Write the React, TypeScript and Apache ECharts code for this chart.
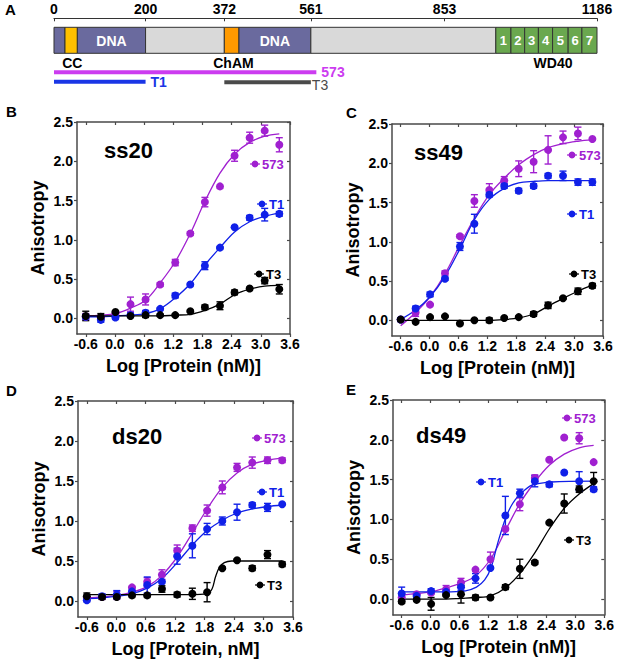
import React, { useEffect, useRef } from 'react';
import * as echarts from 'echarts';

const FONT = "'Liberation Sans', Arial, sans-serif";

// ---------- Panel A: domain map ----------
const scaleTicks = [0, 200, 372, 561, 853, 1186];
const domainStart = [0, 24, 51, 200, 372, 404, 561, 965, 998, 1028, 1058, 1089, 1123, 1153];
const domainEnd = [24, 51, 200, 372, 404, 561, 965, 998, 1028, 1058, 1089, 1123, 1153, 1186];
const domainKind = ['dna', 'cc', 'dna', 'link', 'cham', 'dna', 'link', 'wd', 'wd', 'wd', 'wd', 'wd', 'wd', 'wd'];
const domainText = ['', '', 'DNA', '', '', 'DNA', '', '1', '2', '3', '4', '5', '6', '7'];
const featureNames = ['CC', 'ChAM', 'WD40'];
const featureCenters = [40, 392, 1090];
const constructNames = ['573', 'T1', 'T3'];
const constructStart = [0, 0, 372];
const constructEnd = [573, 200, 561];

// ---------- Binding panels ----------
const xLog = [-0.6, -0.29, 0.01, 0.32, 0.63, 0.93, 1.24, 1.55, 1.85, 2.16, 2.46, 2.77, 3.08, 3.38];
const xTicks = [-0.6, 0, 0.6, 1.2, 1.8, 2.4, 3.0, 3.6];
const yTicks = [0, 0.5, 1.0, 1.5, 2.0, 2.5];
const seriesNames = ['573', 'T1', 'T3'];

// B: ss20
const ss20_573 = [0.02, 0.01, 0.06, 0.18, 0.24, 0.43, 0.71, 1.08, 1.48, 1.68, 2.07, 2.30, 2.39, 2.21];
const ss20_573_err = [0.04, 0.02, 0.02, 0.09, 0.07, 0.02, 0.04, 0.02, 0.06, 0.0, 0.07, 0.07, 0.07, 0.09];
const ss20_T1 = [0.02, -0.02, 0.01, 0.04, 0.07, 0.12, 0.29, 0.43, 0.67, 0.90, 1.16, 1.28, 1.32, 1.33];
const ss20_T1_err = [0.03, 0.03, 0.01, 0.03, 0.03, 0.01, 0.03, 0.01, 0.05, 0.01, 0.01, 0.03, 0.08, 0.03];
const ss20_T3 = [0.03, 0.02, 0.08, 0.03, 0.04, 0.04, 0.04, 0.09, 0.14, 0.16, 0.33, 0.38, 0.48, 0.37];
const ss20_T3_err = [0.06, 0.04, 0.01, 0.01, 0.03, 0.01, 0.01, 0.01, 0.03, 0.05, 0.03, 0.01, 0.04, 0.06];
const ss20_573_fit = [0.03, 0.04, 0.06, 0.13, 0.23, 0.45, 0.72, 1.08, 1.49, 1.85, 2.09, 2.24, 2.32, 2.35];
const ss20_T1_fit = [0.02, 0.02, 0.03, 0.04, 0.06, 0.12, 0.26, 0.44, 0.68, 0.90, 1.10, 1.23, 1.30, 1.34];
const ss20_T3_fit = [0.03, 0.03, 0.03, 0.03, 0.03, 0.03, 0.04, 0.05, 0.10, 0.18, 0.30, 0.37, 0.41, 0.42];

// C: ss49
const ss49_573 = [0.01, 0.10, 0.20, 0.60, 1.07, 1.52, 1.66, 1.78, 1.93, 2.02, 2.17, 2.33, 2.38, 2.31];
const ss49_573_err = [0.01, 0.05, 0.01, 0.03, 0.02, 0.08, 0.08, 0.05, 0.10, 0.14, 0.18, 0.08, 0.08, 0.0];
const ss49_T1 = [0.01, 0.15, 0.33, 0.53, 0.94, 1.23, 1.60, 1.71, 1.65, 1.71, 1.84, 1.84, 1.76, 1.76];
const ss49_T1_err = [0.02, 0.03, 0.03, 0.02, 0.05, 0.12, 0.03, 0.03, 0.03, 0.03, 0.03, 0.06, 0.04, 0.04];
const ss49_T3 = [0.01, -0.02, 0.04, 0.05, -0.04, 0.0, 0.0, 0.03, 0.04, 0.08, 0.19, 0.28, 0.37, 0.44];
const ss49_T3_err = [0.01, 0.01, 0.01, 0.01, 0.01, 0.01, 0.03, 0.01, 0.01, 0.03, 0.04, 0.01, 0.04, 0.03];
const ss49_573_fit = [-0.07, 0.10, 0.30, 0.59, 0.96, 1.30, 1.60, 1.81, 1.98, 2.11, 2.20, 2.25, 2.28, 2.30];
const ss49_T1_fit = [0.01, 0.13, 0.30, 0.56, 0.91, 1.28, 1.54, 1.68, 1.75, 1.77, 1.78, 1.78, 1.78, 1.78];
const ss49_T3_fit = [0.0, 0.0, 0.0, 0.0, 0.0, 0.0, 0.0, 0.01, 0.03, 0.08, 0.18, 0.28, 0.37, 0.45];

// D: ds20
const ds20_573 = [0.04, 0.05, 0.07, 0.17, 0.24, 0.33, 0.63, 0.91, 1.13, 1.42, 1.67, 1.73, 1.76, 1.76];
const ds20_573_err = [0.02, 0.02, 0.05, 0.01, 0.05, 0.06, 0.07, 0.04, 0.07, 0.08, 0.05, 0.07, 0.04, 0.03];
const ds20_T1 = [0.01, 0.06, 0.08, 0.12, 0.20, 0.24, 0.56, 0.69, 0.90, 1.00, 1.11, 1.20, 1.17, 1.21];
const ds20_T1_err = [0.02, 0.03, 0.05, 0.01, 0.10, 0.08, 0.10, 0.15, 0.07, 0.05, 0.10, 0.03, 0.05, 0.0];
const ds20_T3 = [0.06, 0.05, 0.05, 0.07, 0.07, 0.15, 0.08, 0.09, 0.11, 0.41, 0.51, 0.41, 0.58, 0.46];
const ds20_T3_err = [0.04, 0.03, 0.01, 0.01, 0.01, 0.04, 0.03, 0.07, 0.12, 0.01, 0.01, 0.03, 0.05, 0.03];
const ds20_573_fit = [0.04, 0.05, 0.07, 0.11, 0.18, 0.32, 0.55, 0.85, 1.15, 1.42, 1.60, 1.71, 1.76, 1.79];
const ds20_T1_fit = [0.03, 0.04, 0.06, 0.09, 0.16, 0.28, 0.48, 0.70, 0.88, 1.01, 1.10, 1.15, 1.18, 1.20];
const ds20_T3_fitX = [-0.6, 0.5, 1.5, 1.85, 1.95, 2.02, 2.1, 2.2, 2.35, 2.8, 3.38];
const ds20_T3_fit = [0.08, 0.08, 0.08, 0.09, 0.15, 0.30, 0.42, 0.48, 0.50, 0.50, 0.50];

// E: ds49
const ds49_573 = [0.02, 0.06, 0.08, 0.12, 0.21, 0.37, 0.50, 0.88, 1.19, 1.52, 1.75, 2.03, 2.02, 1.72];
const ds49_573_err = [0.01, 0.01, 0.01, 0.05, 0.05, 0.01, 0.09, 0.02, 0.08, 0.04, 0.01, 0.01, 0.07, 0.0];
const ds49_T1 = [0.07, 0.04, 0.10, 0.09, 0.15, 0.26, 0.39, 1.05, 1.33, 1.48, 1.44, 1.59, 1.48, 1.38];
const ds49_T1_err = [0.08, 0.02, 0.03, 0.01, 0.04, 0.06, 0.01, 0.24, 0.05, 0.07, 0.03, 0.0, 0.12, 0.03];
const ds49_T3 = [-0.03, -0.01, -0.06, 0.05, 0.06, 0.02, 0.02, 0.15, 0.38, 0.46, 0.96, 1.20, 1.38, 1.48];
const ds49_T3_err = [0.02, 0.01, 0.08, 0.01, 0.11, 0.03, 0.01, 0.03, 0.12, 0.02, 0.01, 0.12, 0.04, 0.11];
const ds49_573_fit = [0.05, 0.07, 0.09, 0.14, 0.20, 0.29, 0.50, 0.86, 1.20, 1.47, 1.68, 1.82, 1.90, 1.93];
const ds49_T1_fitX = [-0.6, 0.3, 0.7, 0.95, 1.12, 1.25, 1.39, 1.55, 1.7, 1.85, 2.1, 2.5, 3.38];
const ds49_T1_fit = [0.09, 0.09, 0.10, 0.15, 0.24, 0.39, 0.70, 1.01, 1.20, 1.31, 1.43, 1.47, 1.48];
const ds49_T3_fit = [0.0, 0.0, 0.0, 0.0, 0.01, 0.02, 0.04, 0.14, 0.32, 0.58, 0.88, 1.14, 1.32, 1.45];

// ---------- styles ----------
const COLORS = ['#a020d0', '#1020e8', '#000000'];
const AXIS = '#4a4a4a';
const domainColors: Record<string, string> = {
  dna: '#6a6a9e', cc: '#ffc000', cham: '#ff9a00', link: '#d9d9d9', wd: '#6aa84f',
};
const constructColors = ['#cc3cf0', '#1a36e6', '#4a4a4a'];
const constructRow = [54, 63.4, 64];

const panels = [
  {
    grid: { left: 77, top: 122, width: 213, height: 212 },
    letter: 'B', letterPos: [6, 111], title: 'ss20', titlePos: [104, 150],
    xName: 'Log [Protein (nM)]',
    legend: [[255, 164], [262, 204], [259, 274]],
    vals: [ss20_573, ss20_T1, ss20_T3], errs: [ss20_573_err, ss20_T1_err, ss20_T3_err],
    fits: [[xLog, ss20_573_fit], [xLog, ss20_T1_fit], [xLog, ss20_T3_fit]],
  },
  {
    grid: { left: 392, top: 124, width: 211, height: 212 },
    letter: 'C', letterPos: [346, 112], title: 'ss49', titlePos: [414, 152],
    xName: 'Log [Protein (nM)]',
    legend: [[572, 155], [572, 214], [574, 274]],
    vals: [ss49_573, ss49_T1, ss49_T3], errs: [ss49_573_err, ss49_T1_err, ss49_T3_err],
    fits: [[xLog, ss49_573_fit], [xLog, ss49_T1_fit], [xLog, ss49_T3_fit]],
  },
  {
    grid: { left: 78, top: 401, width: 215, height: 216 },
    letter: 'D', letterPos: [6, 390], title: 'ds20', titlePos: [112, 436],
    xName: 'Log [Protein, nM]',
    legend: [[257, 438], [262, 492], [260, 585]],
    vals: [ds20_573, ds20_T1, ds20_T3], errs: [ds20_573_err, ds20_T1_err, ds20_T3_err],
    fits: [[xLog, ds20_573_fit], [xLog, ds20_T1_fit], [ds20_T3_fitX, ds20_T3_fit]],
  },
  {
    grid: { left: 393, top: 400, width: 215, height: 215 },
    letter: 'E', letterPos: [346, 389], title: 'ds49', titlePos: [416, 435],
    xName: 'Log [Protein (nM)]',
    legend: [[567, 418], [481, 482], [569, 540]],
    vals: [ds49_573, ds49_T1, ds49_T3], errs: [ds49_573_err, ds49_T1_err, ds49_T3_err],
    fits: [[xLog, ds49_573_fit], [ds49_T1_fitX, ds49_T1_fit], [xLog, ds49_T3_fit]],
  },
];

const labelStyle = { fontSize: 14, fontWeight: 'bold', fontFamily: FONT, color: '#000' };
const nameStyle = { fontSize: 18, fontWeight: 'bold', fontFamily: FONT, color: '#000' };

function txt(text: string, x: number, y: number, fill: string, font: string, align = 'left', valign = 'middle') {
  return {
    type: 'text',
    style: { text, x, y, fill, font, textAlign: align, textVerticalAlign: valign, align, verticalAlign: valign },
  };
}

function makeErr(color: string) {
  return (params: any, api: any) => {
    const x = api.value(0), y = api.value(1), e = api.value(2);
    if (!e) return { type: 'group', children: [] };
    const t = api.coord([x, y + e]);
    const b = api.coord([x, y - e]);
    const style = { stroke: color, lineWidth: 1.4 };
    return {
      type: 'group',
      children: [
        { type: 'line', shape: { x1: t[0], y1: t[1], x2: b[0], y2: b[1] }, style },
        { type: 'line', shape: { x1: t[0] - 3.5, y1: t[1], x2: t[0] + 3.5, y2: t[1] }, style },
        { type: 'line', shape: { x1: b[0] - 3.5, y1: b[1], x2: b[0] + 3.5, y2: b[1] }, style },
      ],
    };
  };
}

function buildOption() {
  const grid: any[] = [];
  const xAxis: any[] = [];
  const yAxis: any[] = [];
  const series: any[] = [];
  const graphic: any[] = [];

  panels.forEach((p, i) => {
    grid.push({ ...p.grid, containLabel: false });
    const common = {
      type: 'value', gridIndex: i, splitLine: { show: false },
      axisLine: { show: true, onZero: false, lineStyle: { color: AXIS, width: 1.5 } },
    };
    xAxis.push({
      ...common, min: -0.78, max: 3.6, position: 'bottom',
      axisTick: { show: true, length: 3, customValues: xTicks, lineStyle: { color: AXIS, width: 1.2 } },
      axisLabel: { ...labelStyle, margin: 3, customValues: xTicks, formatter: (v: number) => v.toFixed(1) },
      name: p.xName, nameLocation: 'middle', nameGap: 23, nameTextStyle: nameStyle,
    });
    xAxis.push({
      ...common, min: -0.78, max: 3.6, position: 'top',
      axisTick: { show: true, inside: true, length: 3, customValues: xTicks, lineStyle: { color: AXIS, width: 1.2 } },
      axisLabel: { show: false },
    });
    yAxis.push({
      ...common, min: -0.2, max: 2.5, position: 'left',
      axisTick: { show: true, length: 3, customValues: yTicks, lineStyle: { color: AXIS, width: 1.2 } },
      axisLabel: { ...labelStyle, margin: 4, customValues: yTicks, formatter: (v: number) => v.toFixed(1) },
      name: 'Anisotropy', nameLocation: 'middle', nameRotate: 90, nameGap: 30, nameTextStyle: nameStyle,
    });
    yAxis.push({
      ...common, min: -0.2, max: 2.5, position: 'right',
      axisTick: { show: true, inside: true, length: 3, customValues: yTicks, lineStyle: { color: AXIS, width: 1.2 } },
      axisLabel: { show: false },
    });

    const xi = 2 * i;
    p.fits.forEach((f, k) => {
      const [fx, fy] = f as [number[], number[]];
      series.push({
        type: 'line', xAxisIndex: xi, yAxisIndex: xi, name: seriesNames[k] + '_fit',
        data: fx.map((x, j) => [x, fy[j]]), smooth: 0.35, showSymbol: false, symbol: 'none',
        lineStyle: { color: COLORS[k], width: 1.3, opacity: 1 }, silent: true, z: 1,
      });
    });
    p.vals.forEach((v, k) => {
      series.push({
        type: 'custom', xAxisIndex: xi, yAxisIndex: xi, name: seriesNames[k] + '_err',
        data: xLog.map((x, j) => [x, v[j], p.errs[k][j]]),
        renderItem: makeErr(COLORS[k]), z: 2, silent: true,
      });
    });
    p.vals.forEach((v, k) => {
      series.push({
        type: 'scatter', xAxisIndex: xi, yAxisIndex: xi, name: seriesNames[k],
        data: xLog.map((x, j) => [x, v[j]]), symbolSize: 8,
        itemStyle: { color: COLORS[k], opacity: 1 }, z: 3, silent: true,
      });
    });

    graphic.push(txt(p.letter, p.letterPos[0], p.letterPos[1], '#000', `bold 15px ${FONT}`));
    graphic.push(txt(p.title, p.titlePos[0], p.titlePos[1], '#000', `bold 22px ${FONT}`));
    p.legend.forEach((pos, k) => {
      const [cx, cy] = pos;
      graphic.push({ type: 'line', shape: { x1: cx - 5, y1: cy, x2: cx + 5, y2: cy }, style: { stroke: COLORS[k], lineWidth: 1.2 }, z: 10 });
      graphic.push({ type: 'circle', shape: { cx, cy, r: 3.4 }, style: { fill: COLORS[k] }, z: 10 });
      graphic.push({ ...txt(seriesNames[k], cx + 7, cy, COLORS[k], `bold 13px ${FONT}`), z: 10 });
    });
  });

  // ---------- Panel A ----------
  const gA = panels.length;
  grid.push({ left: 54, top: 18.3, width: 543, height: 70 });
  xAxis.push({
    type: 'value', gridIndex: gA, min: 0, max: 1186, position: 'top', splitLine: { show: false },
    axisLine: { show: true, onZero: false, lineStyle: { color: '#333', width: 1.2 } },
    axisTick: { show: true, inside: true, length: 3, customValues: scaleTicks, lineStyle: { color: '#333' } },
    axisLabel: { ...labelStyle, margin: 2, customValues: scaleTicks, formatter: (v: number) => String(v) },
  });
  yAxis.push({ type: 'value', gridIndex: gA, min: 0, max: 1, show: false });

  series.push({
    type: 'custom', xAxisIndex: 2 * gA, yAxisIndex: 2 * gA, name: 'domains', silent: true,
    data: domainStart.map((s, i) => [s, domainEnd[i], i]),
    renderItem: (params: any, api: any) => {
      const i = params.dataIndex;
      const a = api.coord([api.value(0), 1]);
      const b = api.coord([api.value(1), 1]);
      const y0 = a[1] + 9;
      const h = 26;
      const children: any[] = [{
        type: 'rect', shape: { x: a[0], y: y0, width: b[0] - a[0], height: h },
        style: { fill: domainColors[domainKind[i]], stroke: '#333', lineWidth: 1 },
      }];
      if (domainText[i]) {
        children.push(txt(domainText[i], (a[0] + b[0]) / 2, y0 + h / 2 + 0.5, '#fff',
          `bold ${domainText[i] === 'DNA' ? 14 : 13}px ${FONT}`, 'center'));
      }
      return { type: 'group', children };
    },
  });
  series.push({
    type: 'custom', xAxisIndex: 2 * gA, yAxisIndex: 2 * gA, name: 'features', silent: true,
    data: featureCenters.map((c, i) => [c, i]),
    renderItem: (params: any, api: any) => {
      const p = api.coord([api.value(0), 1]);
      return txt(featureNames[params.dataIndex], p[0], p[1] + 45, '#000', `bold 14px ${FONT}`, 'center');
    },
  });
  series.push({
    type: 'custom', xAxisIndex: 2 * gA, yAxisIndex: 2 * gA, name: 'constructs', silent: true,
    data: constructStart.map((s, i) => [s, constructEnd[i], i]),
    renderItem: (params: any, api: any) => {
      const i = params.dataIndex;
      const a = api.coord([api.value(0), 1]);
      const b = api.coord([api.value(1), 1]);
      const y = a[1] + constructRow[i];
      const isT3 = constructNames[i] === 'T3';
      return {
        type: 'group',
        children: [
          { type: 'rect', shape: { x: a[0], y: y - 2, width: b[0] - a[0], height: 4 }, style: { fill: constructColors[i] } },
          txt(constructNames[i], b[0] + (isT3 ? 1 : 5), y + (isT3 ? 3 : 0), constructColors[i],
            `${isT3 ? 'normal' : 'bold'} 14px ${FONT}`),
        ],
      };
    },
  });
  graphic.push(txt('A', 5, 9, '#000', `bold 15px ${FONT}`));

  return { animation: false, grid, xAxis, yAxis, series, graphic };
}

export default function App() {
  const ref = useRef<HTMLDivElement>(null);
  useEffect(() => {
    if (!ref.current) return;
    const chart = echarts.init(ref.current, undefined, { renderer: 'svg' });
    chart.setOption(buildOption() as any);
    return () => chart.dispose();
  }, []);
  return (
    <div
      ref={ref}
      style={{ position: 'absolute', left: 0, top: 0, width: 617, height: 661, background: '#fff' }}
    />
  );
}
